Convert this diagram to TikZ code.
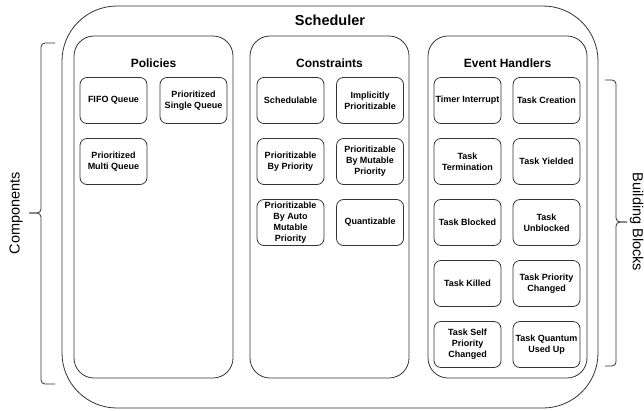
\documentclass[tikz,border=0pt]{standalone}
\usepackage{fontspec}
\setmainfont{Liberation Sans}
\definecolor{linec}{HTML}{333333}
\begin{document}
\begin{tikzpicture}[x=1pt,y=-1pt,
  leaf/.style={draw=linec, line width=0.8pt, rounded corners=7pt, minimum width=67pt, minimum height=46pt, inner sep=0pt, align=center, font=\fontsize{9}{11}\selectfont\bfseries},
  group/.style={draw=linec, line width=0.8pt, rounded corners=20pt, minimum width=159pt, minimum height=342pt, inner sep=0pt},
  outerbox/.style={draw=linec, line width=0.8pt, rounded corners=55pt, minimum width=536pt, minimum height=402pt, inner sep=0pt},
  gtitle/.style={font=\fontsize{12}{14}\selectfont\bfseries, inner sep=0pt},
  stitle/.style={font=\fontsize{14.5}{17}\selectfont\bfseries, inner sep=0pt},
  sidelabel/.style={font=\fontsize{14.5}{17}\selectfont, inner sep=0pt},
  bracket/.style={draw=linec, line width=0.8pt, rounded corners=4pt}]
\useasboundingbox (0,0) rectangle (644,410);
\node[outerbox] (sched) at (330,207) {};
\node[stitle] (schedT) at (330,20) {Scheduler};
% groups
\node[group] (pol) at (153.5,207) {};
\node[group] (con) at (329.5,207) {};
\node[group] (evt) at (507.5,207) {};
\node[gtitle] (polT) at (153.5,63) {Policies};
\node[gtitle] (conT) at (329.5,63) {Constraints};
\node[gtitle] (evtT) at (507.5,63) {Event Handlers};
% policies
\node[leaf] (fifo) at (113.5,100.5) {FIFO Queue};
\node[leaf] (psq) at (193.5,100.5) {Prioritized\\Single Queue};
\node[leaf] (pmq) at (113.5,161.5) {Prioritized\\Multi Queue};
% constraints
\node[leaf] (sch) at (290.5,100.5) {Schedulable};
\node[leaf] (imp) at (370,100.5) {Implicitly\\Prioritizable};
\node[leaf] (pbp) at (290.5,161.5) {Prioritizable\\By Priority};
\node[leaf] (pbmp) at (370,161.5) {Prioritizable\\By Mutable\\Priority};
\node[leaf] (pbamp) at (290.5,222.5) {Prioritizable\\By Auto\\Mutable\\Priority};
\node[leaf] (quant) at (370,222.5) {Quantizable};
% event handlers
\node[leaf] (timer) at (467.5,100.5) {Timer Interrupt};
\node[leaf] (tcre) at (546.5,100.5) {Task Creation};
\node[leaf] (tterm) at (467.5,161.5) {Task\\Termination};
\node[leaf] (tyield) at (546.5,161.5) {Task Yielded};
\node[leaf] (tblock) at (467.5,222.5) {Task Blocked};
\node[leaf] (tunblock) at (546.5,222.5) {Task\\Unblocked};
\node[leaf] (tkill) at (467.5,283.5) {Task Killed};
\node[leaf] (tprio) at (546.5,283.5) {Task Priority\\Changed};
\node[leaf] (tself) at (467.5,344.5) {Task Self\\Priority\\Changed};
\node[leaf] (tquant) at (546.5,344.5) {Task Quantum\\Used Up};
% left bracket
\coordinate (lbTop) at (55,43);
\coordinate (lbBot) at (55,384);
\coordinate (lbTip) at (29,213);
\draw[bracket] (lbTop) -- (41,43) -- (41,213) -- (lbTip);
\draw[bracket] (lbTip) -- (41,213) -- (41,384) -- (lbBot);
\node[sidelabel, rotate=90] (comp) at (16,213) {Components};
% right bracket
\coordinate (rbTop) at (605,80);
\coordinate (rbBot) at (605,366);
\coordinate (rbTip) at (627,222);
\draw[bracket] (rbTop) -- (616,80) -- (616,222) -- (rbTip);
\draw[bracket] (rbTip) -- (616,222) -- (616,366) -- (rbBot);
\node[sidelabel, rotate=-90] (bb) at (636.5,222) {Building Blocks};
\end{tikzpicture}
\end{document}
